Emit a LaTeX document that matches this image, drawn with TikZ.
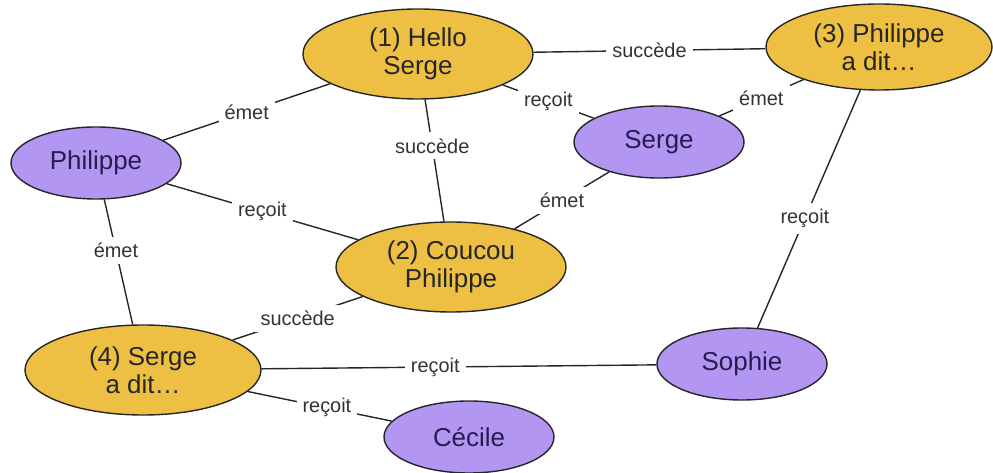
\documentclass[tikz,border=0pt]{standalone}
\usepackage{fontspec}
\setmainfont{Liberation Sans}
\usetikzlibrary{shapes.geometric}
\definecolor{msgfill}{RGB}{237,191,66}
\definecolor{persfill}{RGB}{178,150,242}
\definecolor{persink}{RGB}{38,28,80}
\tikzset{
  msg/.style={draw=black!85,line width=1.4bp,ellipse,fill=msgfill,inner sep=0pt,
    minimum width=230bp,minimum height=90bp,align=center,
    font=\fontsize{26}{28}\selectfont,text=black!85},
  person/.style={draw=black!85,line width=1.4bp,ellipse,fill=persfill,inner sep=0pt,
    minimum width=170bp,minimum height=72bp,font=\fontsize{26}{28}\selectfont,text=persink},
  lbl/.style={fill=white,inner sep=6bp,font=\fontsize{20}{22}\selectfont,text=black!80}
}

\begin{document}
\begin{tikzpicture}[x=1bp,y=-1bp,line width=1.4bp]
  \useasboundingbox (0,0) rectangle (993,473);
  % messages
  \node[msg] (m1) at (418,54) {(1) Hello\\Serge};
  \node[msg] (m2) at (451,267) {(2) Coucou\\Philippe};
  \node[msg,minimum width=226bp,minimum height=86bp] (m3) at (879,47) {(3) Philippe\\a dit…};
  \node[msg,minimum width=236bp] (m4) at (143,370) {(4) Serge\\a dit…};
  % personnes
  \node[person] (phil) at (96,163) {Philippe};
  \node[person] (serge) at (659,142) {Serge};
  \node[person] (sophie) at (742,364) {Sophie};
  \node[person] (cecile) at (469,437) {Cécile};
  % liens
  \draw[black!85] (phil) -- node[lbl]{émet} (m1);
  \draw[black!85] (phil) -- node[lbl]{reçoit} (m2);
  \draw[black!85] (phil) -- node[lbl,pos=0.41]{émet} (m4);
  \draw[black!85] (m1) -- node[lbl]{succède} (m3);
  \draw[black!85] (m1) -- node[lbl,pos=0.38]{succède} (m2);
  \draw[black!85] (m1) -- node[lbl]{reçoit} (serge);
  \draw[black!85] (serge) -- node[lbl]{émet} (m2);
  \draw[black!85] (serge) -- node[lbl]{émet} (m3);
  \draw[black!85] (m3) -- node[lbl,pos=0.54]{reçoit} (sophie);
  \draw[black!85] (m2) -- node[lbl]{succède} (m4);
  \draw[black!85] (m4) -- node[lbl,pos=0.44]{reçoit} (sophie);
  \draw[black!85] (m4) -- node[lbl,pos=0.55]{reçoit} (cecile);
\end{tikzpicture}
\end{document}
